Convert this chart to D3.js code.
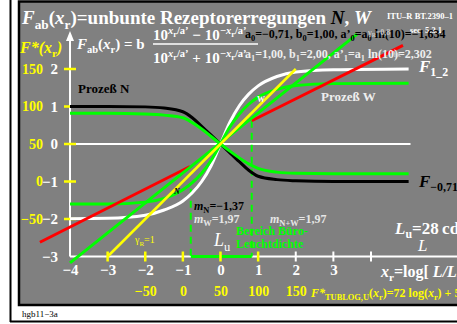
<!DOCTYPE html>
<html>
<head>
<meta charset="utf-8">
<script src="https://cdn.jsdelivr.net/npm/d3@7"></script>
<style>
  body { margin: 0; background: #fff; }
  text { font-family: "Liberation Serif", "Times New Roman", serif; white-space: pre; }
</style>
</head>
<body>
<script>
// values
const curveX = [-4, -3, -2, -1.5, -1, -0.75, -0.5, -0.25, 0, 0.25, 0.5, 0.75, 1, 1.5, 2, 3, 5];
const procN = [1, 1, 0.99, 0.96, 0.86, 0.7, 0.47, 0.24, 0, -0.24, -0.47, -0.7, -0.86, -0.95, -0.98, -1, -1];
const procNGreen = [0.82, 0.82, 0.8, 0.77, 0.7, 0.57, 0.4, 0.2, 0, -0.19, -0.37, -0.53, -0.65, -0.75, -0.78, -0.79, -0.79];
const procW = [-1.99, -1.98, -1.9, -1.76, -1.52, -1.3, -1.0, -0.58, 0, 0.58, 1.02, 1.33, 1.55, 1.8, 1.92, 1.98, 2];
const procWGreen = [-1.6, -1.6, -1.55, -1.45, -1.22, -1.03, -0.78, -0.44, 0, 0.46, 0.8, 1.06, 1.25, 1.46, 1.56, 1.61, 1.62];

const gammaOneX = [-3, 2];
const gammaOneY = [-3, 2];
const greenLineX = [-4, 3.63];
const greenLineY = [-3.17, 2.93];
const redLowX = [-4.8, -0.81];
const redLowY = [-2.62, -0.6];
const redHighX = [0.83, 4.85];
const redHighY = [0.62, 2.63];
const officeX = [-0.79, 0.83];
const officeTopY = [-1.19, 0.62];

const xTicks = [-4, -3, -2, -1, 0, 1, 2, 3];
const xYellowTicks = [-3, -2, -1, 0, 1];
const xWhiteTicks = [2, 3, 4];
const yTicks = [2, 1, 0, -1, -2, -3];
const yYellowTicks = [2, 1, 0, -1, -2];
const fStarTicks = [150, 100, 50, 0, -50];

const W = 457, H = 324;
const svg = d3.select("body").append("svg").attr("width", W).attr("height", H);

const x = d3.scaleLinear().domain([-4, 4]).range([70, 371]);
const y = d3.scaleLinear().domain([-3, 2]).range([256.5, 69]);
const fStarY = d3.scaleLinear().domain([-50, 150]).range([y(-2), y(2)]);
const fStarX = d3.scaleLinear().domain([-50, 150]).range([x(-2), x(2)]);

// frame
svg.append("line").attr("x1", 10.5).attr("x2", 10.5).attr("y1", 0).attr("y2", 322)
    .attr("stroke", "#000").attr("stroke-width", 2);
svg.append("line").attr("x1", 10).attr("x2", W).attr("y1", 321.5).attr("y2", 321.5)
    .attr("stroke", "#000").attr("stroke-width", 2);
svg.append("rect").attr("x", 19).attr("y", 1.5).attr("width", 460).attr("height", 303.5)
    .attr("fill", "#808080").attr("stroke", "#000").attr("stroke-width", 2.5);

const SHIFT = { n: 0, p: -0.4, b: 0.25, q: -0.22 };
const SCALE = { n: 1, p: 0.7, b: 0.7, q: 0.55 };

function rich(px, py, size, color, parts, anchor) {
    const t = svg.append("text").attr("x", px).attr("y", py)
        .attr("font-size", size).attr("fill", color)
        .attr("font-weight", "bold")
        .attr("text-anchor", anchor || "start");
    let shift = 0;
    parts.forEach(([txt, f = "", c]) => {
        const lvl = f.includes("q") ? "q" : f.includes("p") ? "p" : f.includes("b") ? "b" : "n";
        const s = SHIFT[lvl] * size;
        const sp = t.append("tspan").attr("dy", s - shift).attr("font-size", size * SCALE[lvl]).text(txt);
        shift = s;
        if (f.includes("i")) sp.attr("font-style", "italic");
        if (c) sp.attr("fill", c);
    });
    return t;
}

// zero line
svg.append("line").attr("x1", x(-4)).attr("x2", x(5.05)).attr("y1", y(0)).attr("y2", y(0))
    .attr("stroke", "#fff").attr("stroke-width", 2);

// x axis line and ticks
svg.append("line").attr("x1", x(-4)).attr("x2", W).attr("y1", y(-3)).attr("y2", y(-3))
    .attr("stroke", "#fff").attr("stroke-width", 2);
svg.selectAll(".xtw").data(xWhiteTicks).enter().append("line")
    .attr("x1", d => x(d)).attr("x2", d => x(d)).attr("y1", y(-3) - 5).attr("y2", y(-3) + 5)
    .attr("stroke", "#fff").attr("stroke-width", 2);

// office range
svg.append("line").attr("x1", x(officeX[0])).attr("x2", x(officeX[1]))
    .attr("y1", y(-3)).attr("y2", y(-3)).attr("stroke", "#00ff00").attr("stroke-width", 3);
svg.selectAll(".dash").data(officeX).enter().append("line")
    .attr("x1", d => x(d)).attr("x2", d => x(d))
    .attr("y1", (d, i) => y(officeTopY[i])).attr("y2", y(-3))
    .attr("stroke", "#00ff00").attr("stroke-width", 2).attr("stroke-dasharray", "7,5");

svg.selectAll(".xty").data(xYellowTicks).enter().append("line")
    .attr("x1", d => x(d)).attr("x2", d => x(d)).attr("y1", y(-3) - 5).attr("y2", y(-3) + 5)
    .attr("stroke", "#ffff00").attr("stroke-width", 2.5);

// y axis with arrow
svg.append("line").attr("x1", x(-4)).attr("x2", x(-4)).attr("y1", y(-3)).attr("y2", 36)
    .attr("stroke", "#fff").attr("stroke-width", 2);
svg.append("path").attr("d", `M${x(-4)},31 L${x(-4) - 4},41 L${x(-4) + 4},41 Z`).attr("fill", "#fff");
svg.selectAll(".yty").data(yYellowTicks).enter().append("line")
    .attr("x1", x(-4) - 6).attr("x2", x(-4) + 6).attr("y1", d => y(d)).attr("y2", d => y(d))
    .attr("stroke", "#ffff00").attr("stroke-width", 2.5);

// axes labels
function styleAxis(g, color, size) {
    g.select(".domain").remove();
    g.attr("font-family", null).attr("font-size", null);
    g.selectAll("text").attr("fill", color).attr("font-size", size).attr("font-weight", "bold");
}
svg.append("g").attr("transform", `translate(0,${y(-3)})`)
    .call(d3.axisBottom(x).tickValues(xTicks).tickSize(0).tickPadding(8).tickFormat(d3.format("d")))
    .call(g => styleAxis(g, "#fff", 15));
svg.append("g").attr("transform", `translate(${x(-4)},0)`)
    .call(d3.axisLeft(y).tickValues(yTicks).tickSize(0).tickPadding(12).tickFormat(d3.format("d")))
    .call(g => styleAxis(g, "#fff", 15));
svg.append("g").attr("transform", `translate(${x(-4)},0)`)
    .call(d3.axisLeft(fStarY).tickValues(fStarTicks).tickSize(0).tickPadding(27).tickFormat(d3.format("d")))
    .call(g => styleAxis(g, "#ffff00", 14));
svg.append("g").attr("transform", `translate(0,${y(-3)})`)
    .call(d3.axisBottom(fStarX).tickValues(fStarTicks).tickSize(0).tickPadding(30).tickFormat(d3.format("d")))
    .call(g => styleAxis(g, "#ffff00", 14));

// curves
const line = d3.line().x(d => x(d[0])).y(d => y(d[1])).curve(d3.curveMonotoneX);
const straight = d3.line().x(d => x(d[0])).y(d => y(d[1]));
function drawCurve(vals, color, w) {
    svg.append("path").datum(d3.zip(curveX, vals)).attr("d", line)
        .attr("fill", "none").attr("stroke", color).attr("stroke-width", w);
}
function drawSeg(xs, ys, color, w) {
    svg.append("path").datum(d3.zip(xs, ys)).attr("d", straight)
        .attr("fill", "none").attr("stroke", color).attr("stroke-width", w);
}
drawCurve(procW, "#fff", 3);
drawCurve(procN, "#000", 3);
drawCurve(procWGreen, "#00ff00", 3);
drawCurve(procNGreen, "#00ff00", 3);
drawSeg(redLowX, redLowY, "#ff0000", 3);
drawSeg(redHighX, redHighY, "#ff0000", 3);
drawSeg(greenLineX, greenLineY, "#00ff00", 3);
drawSeg(gammaOneX, gammaOneY, "#ffff00", 2.5);

// texts
rich(22, 24, 19, "#fff", [["F", "i"], ["ab", "b"], ["(", ""], ["x", "i"], ["r", "b"],
    [")=unbunte Rezeptorerregungen ", ""], ["N", "i", "#000"], [", ", ""], ["W", "i"]]);
rich(387, 19, 8.5, "#fff", [["ITU\u2013R BT.2390\u20131", ""]]);
rich(410, 33, 8.5, "#fff", [["sec. 5.3.1", ""]]);
rich(20, 53, 16, "#ffff00", [["F", "i"], ["*(", "i"], ["x", "i"], ["r", "b"], [")", "i"]]);

rich(77, 49, 15, "#fff", [["F", "i"], ["ab", "b"], ["(", ""], ["x", "i"], ["r", "b"], [") = b", ""]]);
rich(153, 40, 15, "#fff", [["10", ""], ["x", "ip"], ["r", "q"], ["/a\u2019", "p"], [" \u2212 10", ""],
    ["\u2212x", "ip"], ["r", "q"], ["/a\u2019", "p"]]);
svg.append("line").attr("x1", 153).attr("x2", 258).attr("y1", 44).attr("y2", 44)
    .attr("stroke", "#fff").attr("stroke-width", 1.5);
rich(153, 63, 15, "#fff", [["10", ""], ["x", "ip"], ["r", "q"], ["/a\u2019", "p"], [" + 10", ""],
    ["\u2212x", "ip"], ["r", "q"], ["/a\u2019", "p"]]);
rich(245, 38, 12, "#000", [["a", ""], ["0", "b"], ["=\u22120,71, b", ""], ["0", "b"], ["=1,00, a\u2019", ""],
    ["0", "b"], ["=a", ""], ["0", "b"], [" ln(10)=\u22121,634", ""]]);
rich(368, 35, 8, "#c8c8c8", [["\u03b3", ""], ["R", "b"], ["=0,8", ""]]);
rich(245, 58, 12, "#eee", [["a", ""], ["1", "b"], ["=1,00, b", ""], ["1", "b"], ["=2,00, a\u2019", ""],
    ["1", "b"], ["=a", ""], ["1", "b"], [" ln(10)=2,302", ""]]);
rich(393, 55, 8, "#c8c8c8", [["\u03b3", ""], ["R", "b"]]);

rich(419, 72, 17, "#fff", [["F", "i"], ["1_2", "b"]]);
rich(78, 93, 13, "#000", [["Proze\u00df N", ""]]);
rich(321, 101, 13, "#eee", [["Proze\u00df W", ""]]);
rich(419, 187, 17, "#000", [["F", "i"], ["\u22120,71", "b"]]);
rich(257, 102, 8, "#fff", [["W", ""]]);
rich(174, 194, 8, "#000", [["N", "i"]]);

rich(194, 210, 12, "#000", [["m", "i"], ["N", "b"], ["=\u22121,37", ""]]);
rich(194, 223, 12, "#e6e6e6", [["m", "i"], ["W", "b"], ["=1,97", ""]]);
rich(270, 223, 12, "#e6e6e6", [["m", "i"], ["N+W", "b"], ["=1,97", ""]]);
rich(236, 235, 12, "#00ff00", [["Bereich B\u00fcro-", ""]]);
rich(236, 248, 12, "#00ff00", [["Leuchtdichte", ""]]);
rich(214, 246, 18, "#fff", [["L", "i"], ["u", "b"]]).attr("font-weight", "normal");
rich(135, 243, 10, "#ffff00", [["\u03b3", ""], ["R", "b"], ["=1", ""]]).attr("font-weight", "normal");

rich(395, 234, 17, "#fff", [["L", "i"], ["u", "b"], ["=28\u2009cd/m", ""], ["2", "p"]]);
rich(418, 251, 17, "#fff", [["L", "i"]]).attr("font-weight", "normal");
rich(381, 277, 16, "#fff", [["x", "i"], ["r", "b"], ["=log[", ""], [" L/L", "i"], ["u", "b"], ["]", ""]]);
rich(311, 297, 12, "#ffff00", [["F*", "i"], ["TUBLOG,U", "b"], ["(", ""], ["x", "i"], ["r", "b"],
    [")=72 log(", ""], ["x", "i"], ["r", "b"], [") + 50", ""]]);

rich(22, 317, 9, "#000", [["hgb11\u22123a", ""]]).attr("font-weight", "normal");
</script>
</body>
</html>
